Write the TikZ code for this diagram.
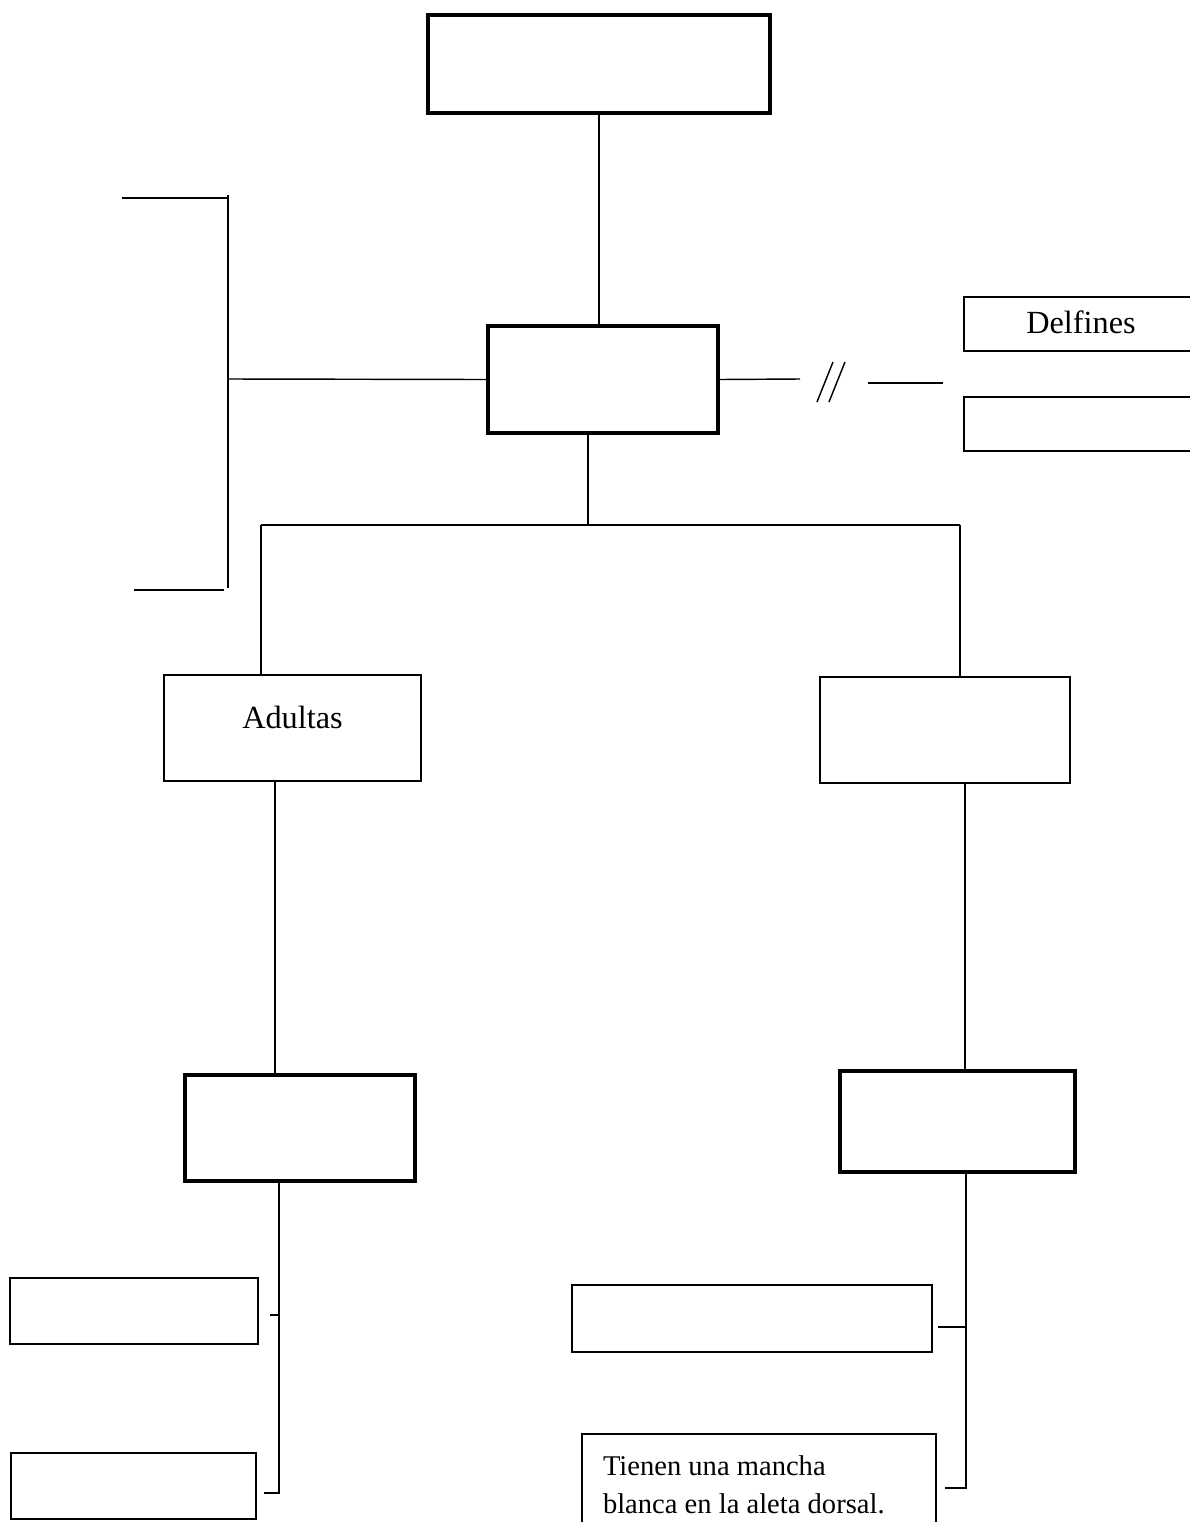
\documentclass[tikz,border=0pt]{standalone}
\usepackage{fontspec}
\setmainfont{Liberation Serif}
\usepackage{tikz}

\tikzset{
  boxsize/.style 2 args={minimum width=#1*0.35pt, minimum height=#2*0.35pt},
  heavybox/.style={draw, rectangle, line width=1.2pt, inner sep=0pt},
  lightbox/.style={draw, rectangle, line width=0.8pt, inner sep=0pt},
  link/.style={line width=0.5pt}
}

\begin{document}
\begin{tikzpicture}[x=0.35pt, y=-0.35pt, font=\fontsize{11.3}{13.6}\selectfont]
        \clip (0,0) rectangle (1190,1522);

        \node (n1) at ( 599, 64.0) [heavybox, boxsize={342}{98}] {};
        \node (n2) at ( 603, 379.5) [heavybox, boxsize={230}{107}] {};
        \node (n3) at (1081, 324.0) [lightbox, boxsize={234}{54}, text depth=1.5pt] {Delfines};
        \node (n4) at (1081, 424.0) [lightbox, boxsize={234}{54}] {};
        \node (n5) at ( 292.5, 728.0) [lightbox, boxsize={257}{106}, text depth=7.2pt] {Adultas};
        \node (n6) at ( 945, 730.0) [lightbox, boxsize={250}{106}] {};
        \node (n7) at ( 300, 1128.0) [heavybox, boxsize={230}{106}] {};
        \node (n8) at ( 957.5, 1121.5) [heavybox, boxsize={235}{101}] {};
        \node (n9) at ( 134, 1311.0) [lightbox, boxsize={248}{66}] {};
        \node (n10) at ( 133.5, 1486.0) [lightbox, boxsize={245}{66}] {};
        \node (n11) at ( 752, 1318.5) [lightbox, boxsize={360}{67}] {};
        \node (n12) at ( 759, 1433.0) [lightbox, anchor=north, minimum width=354*0.35pt,
            inner xsep=21*0.35pt, inner ysep=7.4pt, text width=312*0.35pt, align=flush left,
            font=\fontsize{10}{13.6}\selectfont]
            {Tienen una mancha\\ blanca en la aleta dorsal.};

        \coordinate (b1) at (228, 195);
        \coordinate (b2) at (228, 379);
        \coordinate (b3) at (228, 588);
        \coordinate (c1) at (800, 379);
        \coordinate (c2) at (868, 383);
        \coordinate (c3) at (943, 383);
        \coordinate (j1) at (588, 525);
        \coordinate (j2) at (261, 525);
        \coordinate (j3) at (960, 525);
        \coordinate (v1) at (275, 0);
        \coordinate (v2) at (965, 0);
        \coordinate (e1) at (279, 1493);
        \coordinate (e2) at (966, 1488);

        \draw[link] (n1.south) -- (n1.south |- n2.north);

        % bracket on the left
        \draw[link] (n2.west) -- (b2);
        \draw[link] (b1) -- (b3);
        \draw[link] (122, 198) -- (b1 |- 0,198);
        \draw[link] (134, 590) -- (224, 590);

        % broken link to the right
        \draw[link] (n2.east) -- (c1);
        \draw[link] (817, 402) -- (833, 362);
        \draw[link] (829, 402) -- (845, 362);
        \draw[link] (c2) -- (c3);

        % split below
        \draw[link] (n2.south -| j1) -- (j1);
        \draw[link] (j2) -- (j3);
        \draw[link] (j2) -- (j2 |- n5.north);
        \draw[link] (j3) -- (j3 |- n6.north);
        \draw[link] (n5.south -| v1) -- (n7.north -| v1);
        \draw[link] (n6.south -| v2) -- (n8.north -| v2);

        % lower brackets
        \draw[link] (n7.south -| e1) -- (e1) -- (264, 1493);
        \draw[link] (270, 1315) -- (279, 1315);
        \draw[link] (n8.south -| e2) -- (e2) -- (945, 1488);
        \draw[link] (938, 1327) -- (966, 1327);
    \end{tikzpicture}
\end{document}
